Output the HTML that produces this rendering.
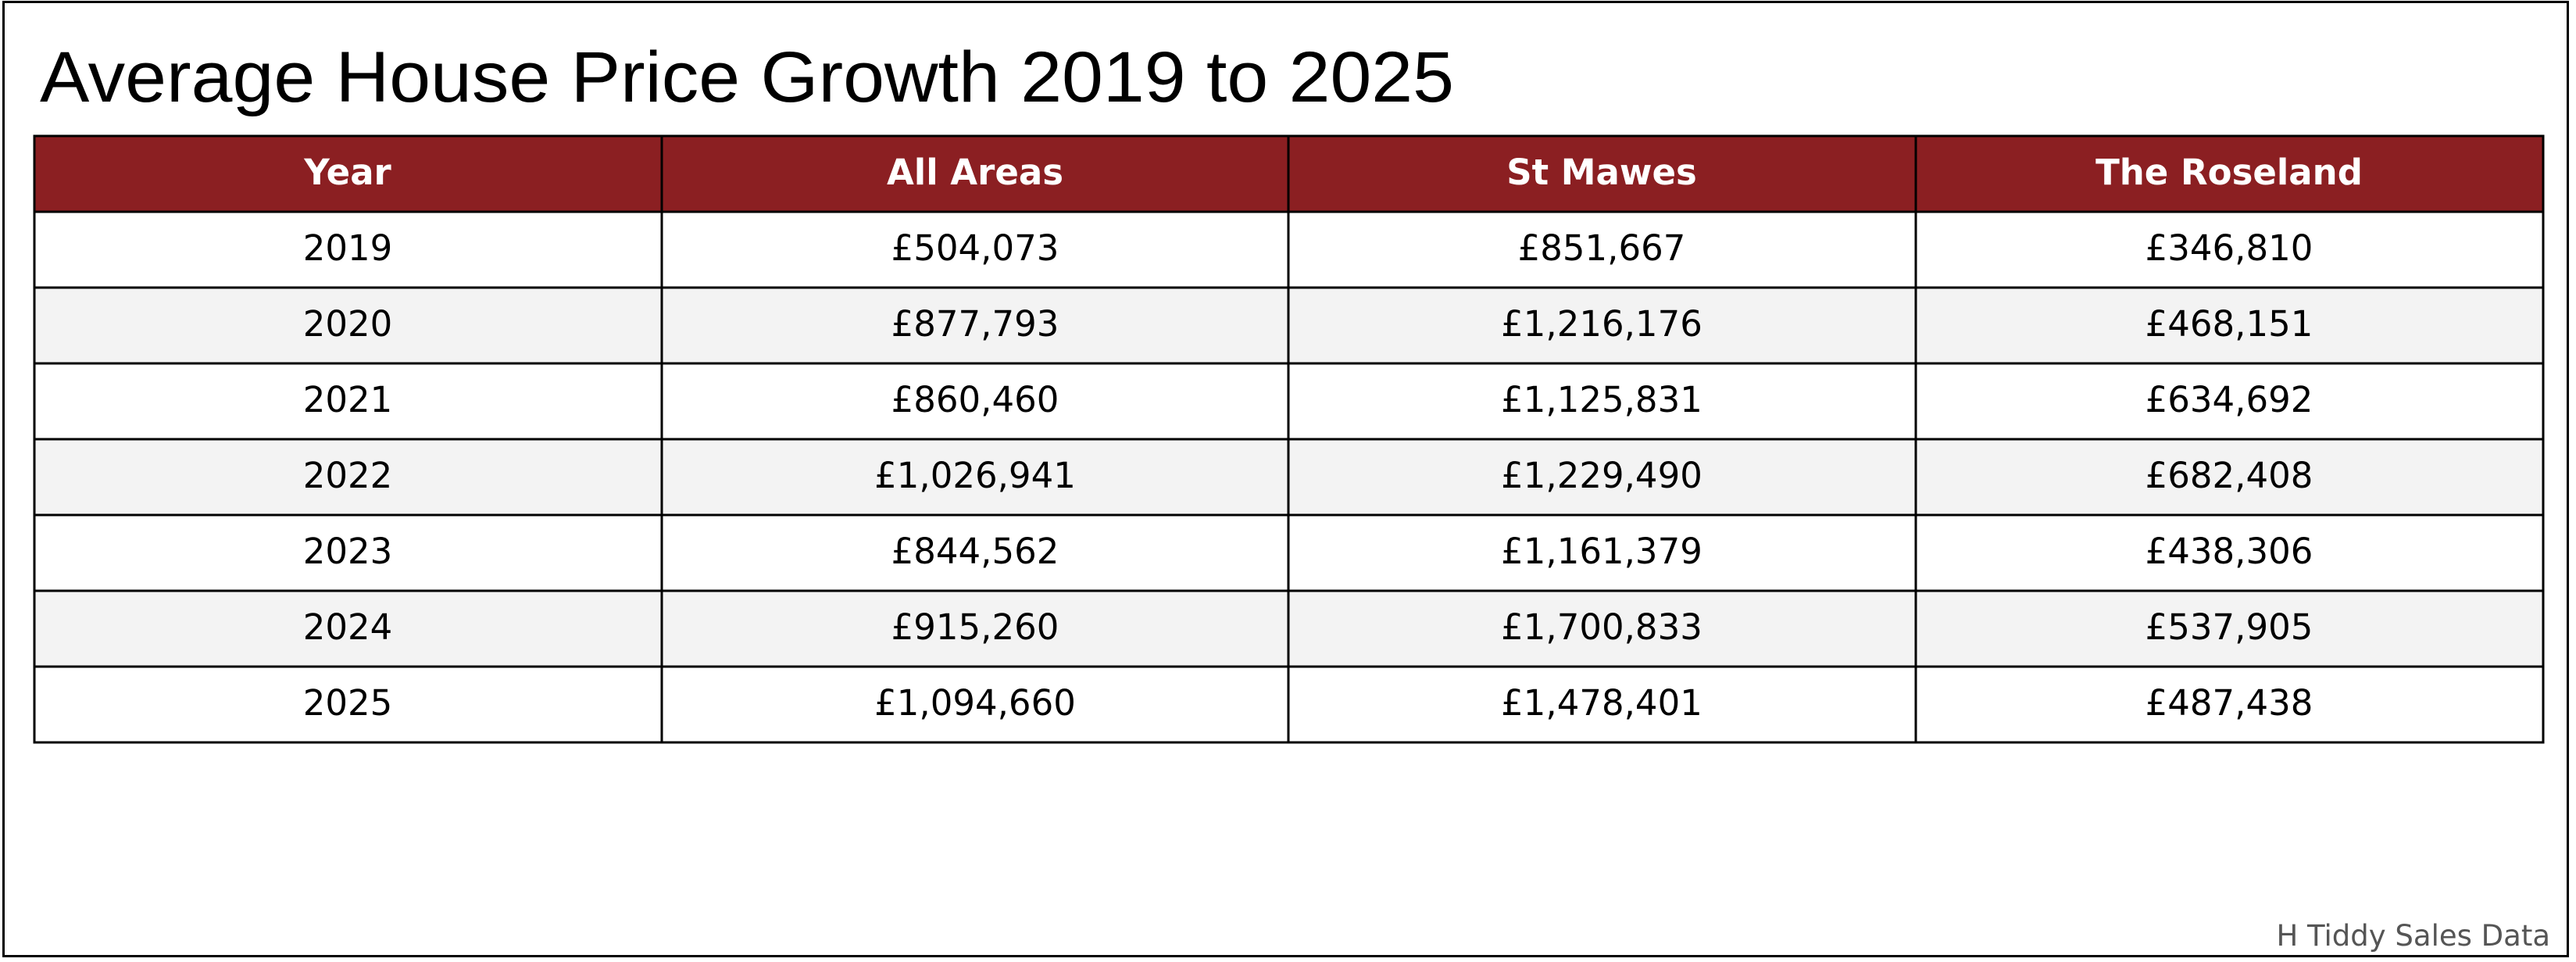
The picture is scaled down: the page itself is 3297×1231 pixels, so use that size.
<!DOCTYPE html>
<html><head><meta charset="utf-8"><style>
html,body{margin:0;padding:0;background:#fff;}
svg{display:block;}
</style></head><body>
<svg width="3297" height="1231" viewBox="0 0 3297 1231" xmlns="http://www.w3.org/2000/svg">
<rect x="0" y="0" width="3297" height="1231" fill="#fff"/>
<rect x="4.5" y="2.5" width="3282" height="1221" fill="none" stroke="#000" stroke-width="3"/>
<text x="51" y="130" font-family="Liberation Sans, sans-serif" font-size="92" fill="#000" textLength="1810" lengthAdjust="spacingAndGlyphs">Average House Price Growth 2019 to 2025</text>
<rect x="44" y="174" width="3211" height="97" fill="#8B1F22"/>
<g fill="#f3f3f3">
<rect x="44" y="368" width="3211" height="97"/>
<rect x="44" y="562" width="3211" height="97"/>
<rect x="44" y="756" width="3211" height="97"/>
</g>
<g stroke="#000" stroke-width="3" fill="none">
<rect x="44" y="174" width="3211" height="776"/>
<line x1="847" y1="174" x2="847" y2="950"/>
<line x1="1649" y1="174" x2="1649" y2="950"/>
<line x1="2452" y1="174" x2="2452" y2="950"/>
<line x1="44" y1="271" x2="3255" y2="271"/>
<line x1="44" y1="368" x2="3255" y2="368"/>
<line x1="44" y1="465" x2="3255" y2="465"/>
<line x1="44" y1="562" x2="3255" y2="562"/>
<line x1="44" y1="659" x2="3255" y2="659"/>
<line x1="44" y1="756" x2="3255" y2="756"/>
<line x1="44" y1="853" x2="3255" y2="853"/>
</g>
<g font-family="DejaVu Sans, sans-serif" font-size="45" font-weight="bold" fill="#fff" text-anchor="middle">
<text x="445" y="236">Year</text>
<text x="1248" y="236">All Areas</text>
<text x="2050" y="236">St Mawes</text>
<text x="2853" y="236">The Roseland</text>
</g>
<g font-family="DejaVu Sans, sans-serif" font-size="45" fill="#000" text-anchor="middle">
<text x="445" y="333">2019</text><text x="1248" y="333">£504,073</text><text x="2050" y="333">£851,667</text><text x="2853" y="333">£346,810</text>
<text x="445" y="430">2020</text><text x="1248" y="430">£877,793</text><text x="2050" y="430">£1,216,176</text><text x="2853" y="430">£468,151</text>
<text x="445" y="527">2021</text><text x="1248" y="527">£860,460</text><text x="2050" y="527">£1,125,831</text><text x="2853" y="527">£634,692</text>
<text x="445" y="624">2022</text><text x="1248" y="624">£1,026,941</text><text x="2050" y="624">£1,229,490</text><text x="2853" y="624">£682,408</text>
<text x="445" y="721">2023</text><text x="1248" y="721">£844,562</text><text x="2050" y="721">£1,161,379</text><text x="2853" y="721">£438,306</text>
<text x="445" y="818">2024</text><text x="1248" y="818">£915,260</text><text x="2050" y="818">£1,700,833</text><text x="2853" y="818">£537,905</text>
<text x="445" y="915">2025</text><text x="1248" y="915">£1,094,660</text><text x="2050" y="915">£1,478,401</text><text x="2853" y="915">£487,438</text>
</g>
<text x="3264" y="1210" font-family="DejaVu Sans, sans-serif" font-size="37" fill="#555" text-anchor="end">H Tiddy Sales Data</text>
</svg>
</body></html>
